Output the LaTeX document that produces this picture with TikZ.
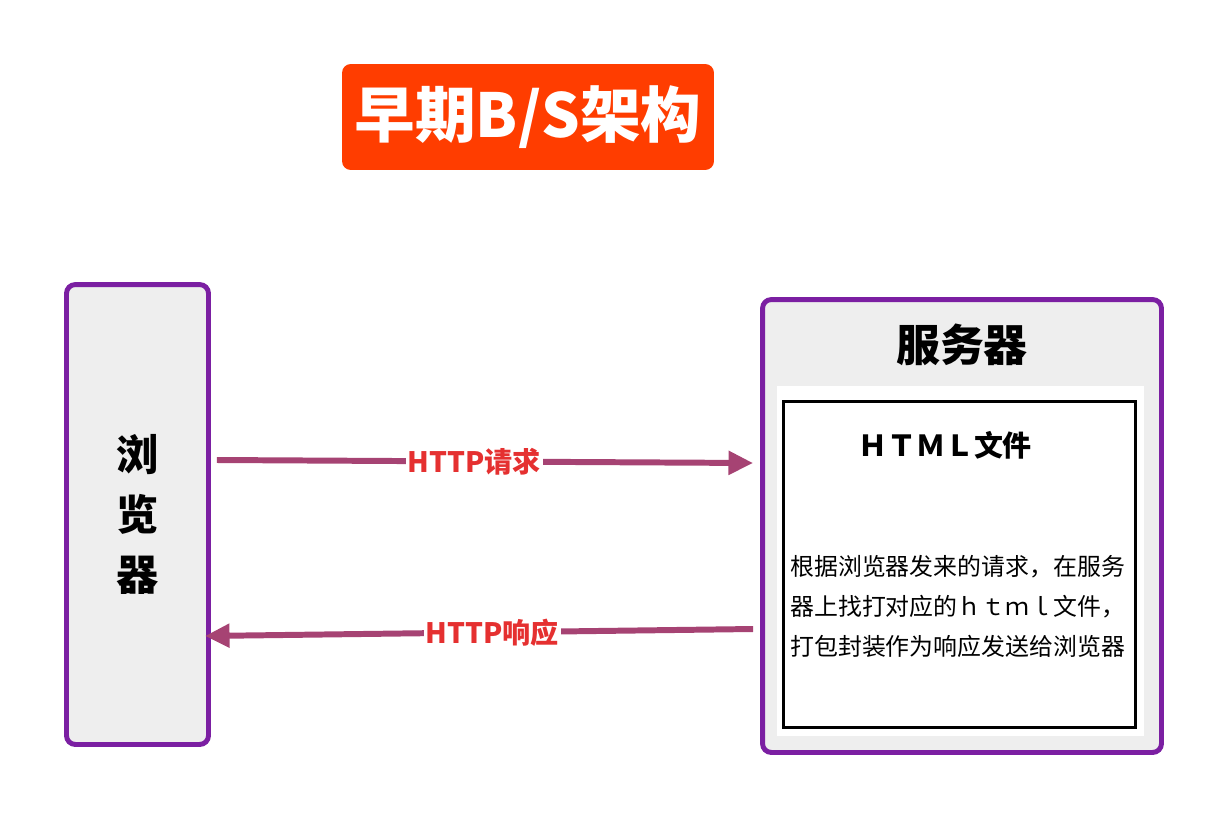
\documentclass[tikz,border=0pt]{standalone}
\usepackage{fontspec}
\setmainfont{Noto Sans CJK SC}
\usetikzlibrary{positioning,arrows.meta,calc}
\definecolor{titleorange}{HTML}{FF3D00}
\definecolor{boxpurple}{HTML}{7B1FA2}
\definecolor{boxgray}{HTML}{EEEEEE}
\definecolor{arrowmag}{HTML}{A64373}
\definecolor{labelred}{HTML}{E53030}
\tikzstyle{box}  = [draw=boxpurple, line width=2.8pt, fill=boxgray, rounded corners=5pt]
\tikzstyle{ptr}  = [draw=arrowmag, line width=3.4pt, -{Triangle[length=14pt,width=13pt]}]
\tikzstyle{lbl}  = [fill=white, text=labelred, inner sep=1pt,
                    font=\bfseries\fontsize{16}{18}\selectfont]

\begin{document}
\begin{tikzpicture}[x=0.02cm, y=-0.02cm]
	\useasboundingbox (0,0) rectangle (1226,818);
	\node[fill=titleorange, rounded corners=5pt, minimum width=7.44cm, minimum height=2.12cm,
		text=white, font=\bfseries\fontsize{34.5}{40}\selectfont] (title) at (528,117) {早期B/S架构};

	\node[box, minimum width=2.84cm, minimum height=9.2cm] (browser) at (137.5,514.5) {};
	\node[align=center, font=\bfseries\fontsize{24}{34}\selectfont] (browsertxt) at (browser.center) {浏\\览\\器};

	\node[box, minimum width=7.98cm, minimum height=9.06cm] (server) at (962,526) {};
	\node[below=0.42cm of server.north, font=\bfseries\fontsize{25}{30}\selectfont] (servertxt) {服务器};
	\node[fill=white, minimum width=7.34cm, minimum height=7cm] (inner) at (960.5,561) {};
	\node[draw=black, line width=1.7pt, minimum width=7.04cm, minimum height=6.52cm] (doc) at (959.5,564.5) {};
	\node[font=\bfseries\fontsize{16.5}{20}\selectfont] (doctitle) at (945,445) {ＨＴＭＬ文件};
	\node[anchor=west, align=left, inner sep=0pt, font=\fontsize{13.6}{22.7}\selectfont] (doctxt)
		at ($(doc.west)+(8,42)$) {根据浏览器发来的请求，在服务\\器上找打对应的ｈｔｍｌ文件，\\打包封装作为响应发送给浏览器};

	\draw[ptr] ($(browser.east)+(6,-54.5)$) -- node[lbl, pos=0.48] (req) {HTTP请求} ($(server.west)+(-7,-63)$);
	\draw[ptr] ($(server.west)+(-7,103)$) -- node[lbl, pos=0.476] (resp) {HTTP响应} ($(browser.east)+(-6,121.5)$);
\end{tikzpicture}
\end{document}
